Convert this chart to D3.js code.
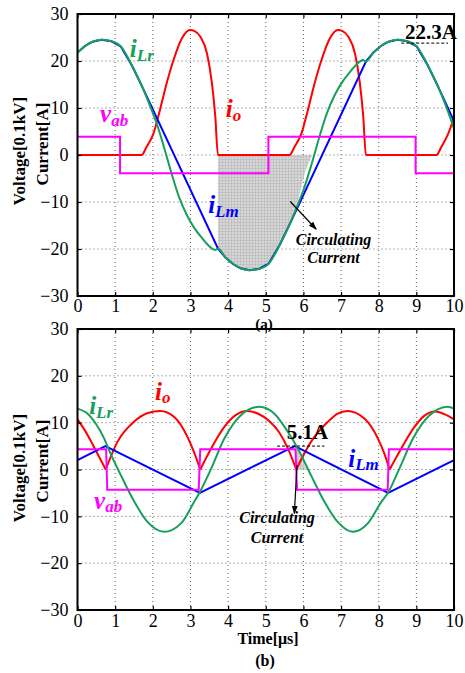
<!DOCTYPE html>
<html><head><meta charset="utf-8">
<script src="https://cdn.jsdelivr.net/npm/d3@7"></script>
<style>body{margin:0;background:#fff}svg{display:block}</style>
</head><body>
<svg id="c" width="465" height="673"></svg>
<script>
// ---------- data ----------
const xTicks = [0,1,2,3,4,5,6,7,8,9,10];
const yTicks = [-30,-20,-10,0,10,20,30];

// Panel (a)
const iLrA = [[0,21.8],[0.2,23.2],[0.4,24.1],[0.64,24.5],[0.9,24.2],[1.15,23.1],[1.45,19.0],[1.72,14.5],[1.9,11.0],[2.1,6.8],[2.3,1.6],[2.5,-4.0],[2.7,-9.0],[2.9,-12.7],[3.1,-15.5],[3.3,-17.6],[3.5,-19.4],[3.65,-20.2],[3.73,-19.9],[3.93,-21.8],[4.13,-23.2],[4.33,-24.1],[4.57,-24.5],[4.83,-24.2],[5.08,-23.1],[5.38,-19.0],[5.65,-14.5],[5.83,-11.0],[6.03,-6.8],[6.23,-1.6],[6.43,4.0],[6.63,9.0],[6.83,12.7],[7.03,15.5],[7.23,17.6],[7.43,19.4],[7.58,20.2],[7.66,19.9],[7.86,21.8],[8.06,23.2],[8.26,24.1],[8.5,24.5],[8.76,24.2],[9.01,23.1],[9.31,19.0],[9.58,14.5],[9.76,11.0],[10,5.6]];
const iLmA = [[0,21.8],[0.2,23.2],[0.4,24.1],[0.64,24.5],[0.9,24.2],[1.15,23.1],[1.45,19.0],[1.72,14.5],[3.73,-19.9],[3.93,-21.8],[4.13,-23.2],[4.33,-24.1],[4.57,-24.5],[4.83,-24.2],[5.08,-23.1],[5.38,-19.0],[5.65,-14.5],[7.66,19.9],[7.86,21.8],[8.06,23.2],[8.26,24.1],[8.5,24.5],[8.76,24.2],[9.01,23.1],[9.31,19.0],[9.58,14.5],[10,7.2]];
const ioA = [[0,0],[1.7,0],[1.84,1.8],[2.02,4.6],[2.19,9.6],[2.37,15.3],[2.55,20.2],[2.77,24.8],[2.99,26.6],[3.1,26.4],[3.26,25.2],[3.44,21.6],[3.57,15.3],[3.66,8.2],[3.73,0],[5.63,0],[5.77,1.8],[5.95,4.6],[6.12,9.6],[6.3,15.3],[6.48,20.2],[6.7,24.8],[6.92,26.6],[7.03,26.4],[7.19,25.2],[7.37,21.6],[7.5,15.3],[7.59,8.2],[7.66,0],[9.53,0],[9.67,1.8],[9.85,4.6],[10,8.1]];
const vabA = [[0,3.9],[1.13,3.9],[1.13,-3.9],[5.07,-3.9],[5.07,3.9],[8.98,3.9],[8.98,-3.9],[10,-3.9]];
const shadeA = [[3.73,-19.9],[3.93,-21.8],[4.13,-23.2],[4.33,-24.1],[4.57,-24.5],[4.83,-24.2],[5.08,-23.1],[5.38,-19.0],[5.65,-14.5],[5.8,-11.3],[6.07,-3.2],[6.24,0]];

// Panel (b)
const iLrB = [[0,13.0],[0.27,11.9],[0.5,9.6],[0.71,6.6],[0.84,4.1],[1.15,-1.2],[1.51,-6.9],[1.86,-11.2],[2.3,-13.3],[2.75,-11.5],[3.1,-6.9],[3.25,-4.8],[3.55,0.2],[3.9,6.6],[4.34,11.6],[4.83,13.4],[5.23,11.9],[5.59,8.0],[5.85,4.5],[6.2,-1.2],[6.56,-6.9],[6.91,-11.2],[7.31,-13.3],[7.71,-11.5],[8.07,-6.9],[8.26,-4.8],[8.55,0.2],[8.91,6.6],[9.35,11.6],[9.84,13.4],[10,13.0]];
const iLmB = [[0,2.0],[0.74,5.0],[3.25,-5.0],[5.77,5.0],[8.25,-5.0],[10,2.0]];
const ioB = [[0,10.7],[0.2,8.3],[0.4,5.4],[0.6,2.3],[0.75,0],[1.06,5.9],[1.5,10.2],[1.85,12.0],[2.2,12.5],[2.57,11.2],[2.93,6.8],[3.1,3.6],[3.26,0],[3.55,4.5],[3.9,9.1],[4.2,11.6],[4.5,12.5],[4.8,11.9],[5.1,10.3],[5.35,8.0],[5.6,4.3],[5.81,0],[6.2,5.9],[6.65,10.2],[6.9,11.9],[7.17,12.5],[7.62,10.9],[7.98,6.6],[8.15,3.4],[8.29,0],[8.6,4.5],[8.95,9.1],[9.2,11.4],[9.5,12.4],[9.8,11.6],[10,10.7]];
const vabB = [[0,4.3],[0.76,4.3],[0.79,-4.3],[3.22,-4.3],[3.26,4.3],[5.79,4.3],[5.83,-4.3],[8.24,-4.3],[8.27,4.3],[10,4.3]];
const shadeB = [[5.8,4.8],[5.95,2.4],[6.08,0]];

// ---------- drawing ----------
const FONT = "'Liberation Serif','Times New Roman',Times,serif";
const COL = {iLr:"#16a05c", iLm:"#0000ff", io:"#ff0000", vab:"#ff00ff"};
const svg = d3.select("#c");
svg.append("rect").attr("width",465).attr("height",673).attr("fill","#fff");

const defs = svg.append("defs");
const pat = defs.append("pattern").attr("id","hatch").attr("patternUnits","userSpaceOnUse").attr("width",3).attr("height",3);
pat.append("rect").attr("width",3).attr("height",3).attr("fill","#d6d6d6");
pat.append("path").attr("d","M0,0.5H3M0.5,0V3").attr("stroke","#bcbcbc").attr("stroke-width",0.7);
defs.append("marker").attr("id","arr").attr("viewBox","0 0 10 10").attr("refX",9).attr("refY",5)
  .attr("markerWidth",7).attr("markerHeight",7).attr("orient","auto")
  .append("path").attr("d","M0,1.5L10,5L0,8.5Z").attr("fill","#000");

function panel(p) {
  const x = d3.scaleLinear([0,10],[p.left,p.right]);
  const y = d3.scaleLinear([-30,30],[p.bottom,p.top]);
  const g = svg.append("g");
  const cid = "clip"+p.id;
  defs.append("clipPath").attr("id",cid).append("rect")
    .attr("x",p.left).attr("y",p.top).attr("width",p.right-p.left).attr("height",p.bottom-p.top);

  // grid
  g.append("g").selectAll("line").data(xTicks.filter(t=>t>0&&t<10)).join("line")
    .attr("x1",d=>x(d)).attr("x2",d=>x(d)).attr("y1",p.top).attr("y2",p.bottom)
    .attr("stroke","#666").attr("stroke-width",1).attr("stroke-dasharray","1,3");
  g.append("g").selectAll("line").data(yTicks.filter(t=>t>-30&&t<30)).join("line")
    .attr("y1",d=>y(d)).attr("y2",d=>y(d)).attr("x1",p.left).attr("x2",p.right)
    .attr("stroke","#666").attr("stroke-width",1).attr("stroke-dasharray","1,3");

  const plot = g.append("g").attr("clip-path",`url(#${cid})`);
  const area = d3.area().x(d=>x(d[0])).y0(y(0)).y1(d=>y(d[1])).curve(d3.curveMonotoneX);
  plot.append("path").attr("d",area(p.shade)).attr("fill","url(#hatch)");

  const smooth = d3.line().x(d=>x(d[0])).y(d=>y(d[1])).curve(d3.curveMonotoneX);
  const lin = d3.line().x(d=>x(d[0])).y(d=>y(d[1]));

  // io: split at cusps if requested
  if (p.ioCusps) {
    let seg = [];
    p.io.forEach((d,i)=>{
      seg.push(d);
      if (d[1]===0 && i>0 && i<p.io.length-1) {
        plot.append("path").attr("d",smooth(seg)).attr("fill","none").attr("stroke",COL.io).attr("stroke-width",2);
        seg = [d];
      }
    });
    plot.append("path").attr("d",smooth(seg)).attr("fill","none").attr("stroke",COL.io).attr("stroke-width",2);
  } else {
    plot.append("path").attr("d",smooth(p.io)).attr("fill","none").attr("stroke",COL.io).attr("stroke-width",2);
  }
  plot.append("path").attr("d",lin(p.iLm)).attr("fill","none").attr("stroke",COL.iLm).attr("stroke-width",2);
  plot.append("path").attr("d",smooth(p.iLr)).attr("fill","none").attr("stroke",COL.iLr).attr("stroke-width",2);
  plot.append("path").attr("d",lin(p.vab)).attr("fill","none").attr("stroke",COL.vab).attr("stroke-width",2);

  // axes
  const ax = (gen, tr) => {
    const a = g.append("g").attr("transform",tr).call(gen);
    a.select(".domain").remove();
    a.selectAll(".tick line").attr("stroke","#000").attr("stroke-width",1.2);
    a.attr("font-family",FONT).attr("font-size",18);
    a.selectAll("text").attr("fill","#000");
    return a;
  };
  ax(d3.axisLeft(y).tickValues(yTicks).tickSizeInner(-4).tickSizeOuter(0).tickPadding(9), `translate(${p.left},0)`);
  ax(d3.axisBottom(x).tickValues(xTicks).tickSizeInner(-4).tickSizeOuter(0).tickPadding(p.xPad), `translate(0,${p.bottom})`);
  ax(d3.axisTop(x).tickValues(xTicks).tickSizeInner(-4).tickSizeOuter(0).tickFormat(()=>""), `translate(0,${p.top})`);
  ax(d3.axisRight(y).tickValues(yTicks).tickSizeInner(-4).tickSizeOuter(0).tickFormat(()=>""), `translate(${p.right},0)`);
  g.append("rect").attr("x",p.left).attr("y",p.top).attr("width",p.right-p.left).attr("height",p.bottom-p.top)
    .attr("fill","none").attr("stroke","#000").attr("stroke-width",2);

  // y labels
  g.append("text").attr("transform",`translate(24.5,${p.volY}) rotate(-90)`).attr("text-anchor","middle")
    .attr("font-family",FONT).attr("font-weight","bold").attr("font-size",17).text("Voltage[0.1kV]");
  g.append("text").attr("transform",`translate(48,${p.curY}) rotate(-90)`).attr("text-anchor","middle")
    .attr("font-family",FONT).attr("font-weight","bold").attr("font-size",17).text("Current[A]");

  // series labels
  p.labels.forEach(l=>{
    const t = g.append("text").attr("x",x(l.t)).attr("y",y(l.v)).attr("fill",COL[l.c])
      .attr("font-family",FONT).attr("font-weight","bold").attr("font-style","italic").attr("font-size",25);
    t.append("tspan").text(l.main);
    t.append("tspan").attr("font-size",17).attr("dy",l.dy).text(l.sub);
  });

  // peak annotation
  g.append("text").attr("x",x(p.peak.t)).attr("y",y(p.peak.v)).attr("font-family",FONT).attr("font-weight","bold")
    .attr("font-size",21).text(p.peak.text);
  g.append("line").attr("x1",x(p.peak.d0)).attr("x2",x(p.peak.d1)).attr("y1",y(p.peak.dv)).attr("y2",y(p.peak.dv))
    .attr("stroke","#000").attr("stroke-width",1).attr("stroke-dasharray","3,2");

  // circulating current annotation
  g.append("line").attr("x1",x(p.arrow[0])).attr("y1",y(p.arrow[1])).attr("x2",x(p.arrow[2])).attr("y2",y(p.arrow[3]))
    .attr("stroke","#000").attr("stroke-width",1.2).attr("marker-end","url(#arr)");
  [["Circulating",p.circ[1]],["Current",p.circ[2]]].forEach(([s,v])=>{
    g.append("text").attr("x",x(p.circ[0])).attr("y",y(v)).attr("text-anchor","middle")
      .attr("font-family",FONT).attr("font-weight","bold").attr("font-style","italic").attr("font-size",16).text(s);
  });
}

panel({id:"a", left:77.5, right:454, top:14, bottom:296, xPad:3, volY:151, curY:144,
  iLr:iLrA, iLm:iLmA, io:ioA, vab:vabA, shade:shadeA, ioCusps:false,
  labels:[{t:1.39,v:20.9,c:"iLr",main:"i",sub:"Lr",dy:4},{t:3.94,v:8.1,c:"io",main:"i",sub:"o",dy:4},
          {t:0.6,v:7.1,c:"vab",main:"v",sub:"ab",dy:4},{t:3.47,v:-12.3,c:"iLm",main:"i",sub:"Lm",dy:4}],
  peak:{text:"22.3A",t:8.7,v:24.6,d0:8.6,d1:9.84,dv:23.8},
  arrow:[5.65,-9.9,6.34,-15.8], circ:[6.8,-19.1,-23.0]});

panel({id:"b", left:77.5, right:454, top:329, bottom:610, xPad:4, volY:468, curY:461,
  iLr:iLrB, iLm:iLmB, io:ioB, vab:vabB, shade:shadeB, ioCusps:true,
  labels:[{t:0.31,v:11.9,c:"iLr",main:"i",sub:"Lr",dy:4},{t:2.06,v:14.8,c:"io",main:"i",sub:"o",dy:3},
          {t:0.44,v:-8.4,c:"vab",main:"v",sub:"ab",dy:3},{t:7.19,v:0.5,c:"iLm",main:"i",sub:"Lm",dy:3}],
  peak:{text:"5.1A",t:5.56,v:6.45,d0:5.3,d1:6.56,dv:5.0},
  arrow:[5.83,0.9,5.76,-9.4], circ:[5.3,-11.5,-15.6]});

// captions
const cap = (txt,xx,yy,fs)=>svg.append("text").attr("x",xx).attr("y",yy).attr("text-anchor","middle")
  .attr("font-family",FONT).attr("font-weight","bold").attr("font-size",fs).text(txt);
cap("(a)",264,329,15);
cap("Time[\u03bcs]",268,644,16);
cap("(b)",265,666,16);
</script>
</body></html>
